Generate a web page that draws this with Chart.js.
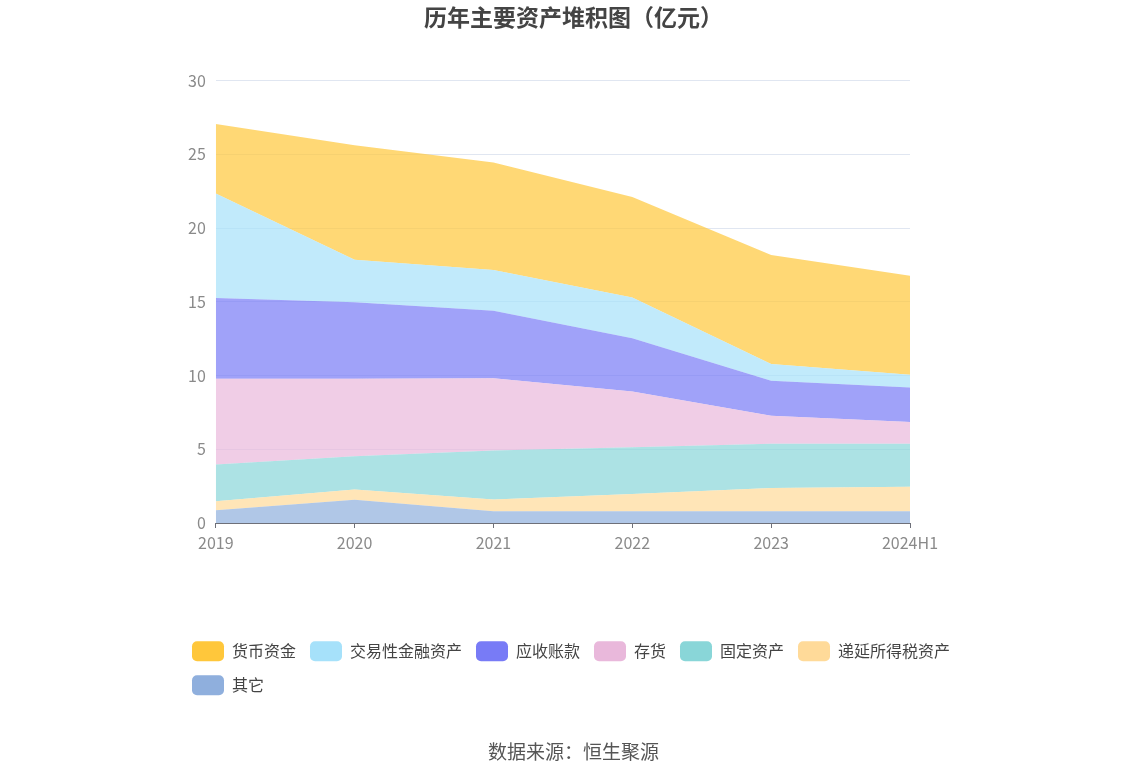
<!DOCTYPE html>
<html>
<head>
<meta charset="utf-8">
<script src="https://cdn.jsdelivr.net/npm/chart.js@4/dist/chart.umd.min.js"></script>
<style>
  html, body { margin: 0; padding: 0; background: #fff; }
  #wrap { width: 1147px; height: 776px; position: relative; }
</style>
</head>
<body>
<div id="wrap"><canvas id="myChart"></canvas></div>
<script>
// 横轴年份
var years = ['2019', '2020', '2021', '2022', '2023', '2024H1'];
// 各项资产（亿元），从下往上堆叠
var otherArr    = [0.87, 1.57, 0.80, 0.80, 0.80, 0.80];
var deferredArr = [0.61, 0.70, 0.79, 1.17, 1.58, 1.65];
var fixedArr    = [2.48, 2.25, 3.32, 3.16, 3.00, 2.93];
var stockArr    = [5.82, 5.26, 4.91, 3.79, 1.89, 1.47];
var receivArr   = [5.48, 5.19, 4.58, 3.61, 2.37, 2.34];
var tradingArr  = [7.08, 2.88, 2.75, 2.77, 1.15, 0.86];
var cashArr     = [4.71, 7.76, 7.29, 6.81, 7.38, 6.72];
var yTicks = [0, 5, 10, 15, 20, 25, 30];

var fontCN = '"Noto Sans CJK SC", "Noto Sans", sans-serif';

var makeSet = function(label, dataArr, rgb){
    return {
        label: label,
        data: dataArr,
        fill: 'stack',
        backgroundColor: 'rgba(' + rgb + ',0.7)',
        legendColor: 'rgb(' + rgb + ')',
        borderWidth: 0,
        borderColor: 'rgba(0,0,0,0)',
        pointRadius: 0,
        pointHoverRadius: 0,
        tension: 0
    };
};

var dataSets = [
    makeSet('其它', otherArr, '143,175,221'),
    makeSet('递延所得税资产', deferredArr, '255,218,153'),
    makeSet('固定资产', fixedArr, '137,214,216'),
    makeSet('存货', stockArr, '233,184,219'),
    makeSet('应收账款', receivArr, '120,123,246'),
    makeSet('交易性金融资产', tradingArr, '166,225,250'),
    makeSet('货币资金', cashArr, '255,199,59')
];

var ctx = document.getElementById('myChart');
ctx.width = 1147;
ctx.height = 776;

var mChart = new Chart(ctx, {
    type: 'line',
    data: { labels: years, datasets: dataSets },
    options: {
        responsive: false,
        animation: false,
        events: [],
        layout: { padding: { left: 178, right: 178, top: 0, bottom: 0 } },
        scales: {
            x: {
                offset: false,
                afterFit: function(scale){
                    scale.height += 70;
                    scale.paddingRight = 237;
                },
                grid: { drawOnChartArea: false, drawTicks: true, tickLength: 5, color: '#6e7079' },
                border: { display: true, color: '#6e7079' },
                ticks: { color: '#8a8a8a', font: { size: 16, family: fontCN }, padding: 5, maxRotation: 0 }
            },
            y: {
                stacked: true,
                min: 0,
                max: 30,
                afterBuildTicks: function(scale){ scale.ticks = yTicks.map(function(v){ return { value: v }; }); },
                grid: { color: '#e0e6f1', drawTicks: false },
                border: { display: false },
                ticks: { color: '#8a8a8a', font: { size: 16, family: fontCN }, padding: 10 }
            }
        },
        plugins: {
            title: {
                display: true,
                text: '历年主要资产堆积图（亿元）',
                color: '#444',
                font: { size: 23, weight: 'bold', family: fontCN },
                padding: { top: 3, bottom: 50 }
            },
            subtitle: {
                display: true,
                position: 'bottom',
                text: '数据来源：恒生聚源',
                color: '#555',
                font: { size: 19, family: fontCN },
                padding: { top: 35, bottom: 13 }
            },
            legend: {
                position: 'bottom',
                align: 'start',
                reverse: true,
                labels: {
                    boxWidth: 32,
                    boxHeight: 20,
                    useBorderRadius: true,
                    borderRadius: 5,
                    padding: 14,
                    color: '#444',
                    font: { size: 16, family: fontCN },
                    generateLabels: function(chart){
                        return chart.data.datasets.map(function(ds, i){
                            return {
                                text: ds.label,
                                fillStyle: ds.legendColor,
                                strokeStyle: ds.legendColor,
                                lineWidth: 0,
                                fontColor: '#444',
                                borderRadius: 5,
                                hidden: false,
                                datasetIndex: i
                            };
                        });
                    }
                }
            },
            tooltip: { enabled: false }
        }
    }
});
</script>
</body>
</html>
